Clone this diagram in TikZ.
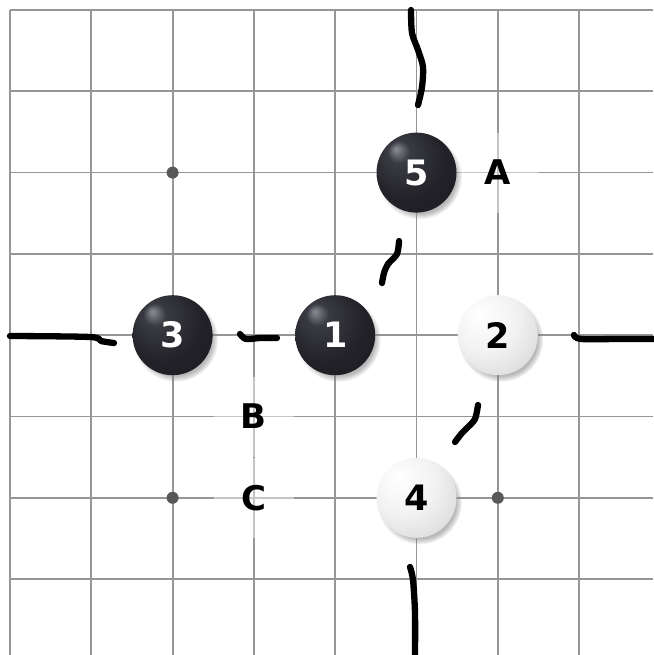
\documentclass[tikz,border=0pt]{standalone}
\usepackage{fontspec}
\setmainfont{DejaVu Sans}
\usetikzlibrary{shadows,fadings}

\definecolor{gridgray}{RGB}{150,150,150}
\definecolor{hoshigray}{RGB}{88,88,88}
\definecolor{bhi}{RGB}{140,140,150}
\definecolor{bmid}{RGB}{58,58,66}
\definecolor{bdark}{RGB}{34,34,40}
\definecolor{bedge}{RGB}{22,22,28}
\definecolor{wmid}{RGB}{242,242,242}
\definecolor{wedge}{RGB}{205,205,205}
\definecolor{wrim}{RGB}{185,185,185}

% stone surfaces: light spot towards the upper left
\pgfdeclareradialshading{blackstoneshade}{\pgfpoint{-13bp}{15bp}}{%
  color(0bp)=(bhi); color(7bp)=(bmid); color(24bp)=(bdark); color(50bp)=(bedge)}
\pgfdeclareradialshading{whitestoneshade}{\pgfpoint{-12bp}{14bp}}{%
  color(0bp)=(white); color(20bp)=(wmid); color(46bp)=(wedge); color(62bp)=(wrim)}

\tikzset{
  stone/.style={circle, minimum size=80pt, inner sep=0pt,
    font=\fontsize{35}{40}\selectfont\bfseries,
    circular drop shadow={shadow xshift=3pt, shadow yshift=-4pt,
      shadow scale=1.06, opacity=0.55}},
  blackstone/.style={stone, shading=blackstoneshade, text=white},
  whitestone/.style={stone, shading=whitestoneshade, text=black},
  letterlabel/.style={rectangle, minimum size=80pt, inner sep=0pt,
    fill=white, fill opacity=0.45, text opacity=1,
    font=\fontsize{34}{40}\selectfont\bfseries},
  gridline/.style={gridgray, line width=1.8pt},
  boundary/.style={black, line width=6.3pt, line cap=round, line join=round},
}

\begin{document}
\begin{tikzpicture}[x=1pt, y=-1pt]
  \useasboundingbox (0,0) rectangle (653,655);
  \fill[white] (0,0) rectangle (653,655);

  % board lines
  \foreach \i in {0,...,7} {
    \draw[gridline] ({10+81.3*\i},10) -- ({10+81.3*\i},655);
    \draw[gridline] (10,{10+81.3*\i}) -- (653,{10+81.3*\i});
  }

  % star points
  \foreach \p in {(172.6,172.6), (172.6,497.8), (497.8,497.8)}
    \fill[hoshigray] \p circle[radius=6pt];

  % hand-drawn boundary strokes
  \draw[boundary] plot[smooth] coordinates {(411,10) (412,33) (418,50) (423,67) (422,87) (418,105)};
  \draw[boundary] plot[smooth] coordinates {(399,241) (397,254) (388,264) (384,273) (382,283)};
  \draw[boundary] plot[smooth] coordinates {(10,336) (90,337) (101,341) (114,343)};
  \draw[boundary] plot[smooth] coordinates {(240,334) (246,339) (260,338) (277,338)};
  \draw[boundary] plot[smooth] coordinates {(574,335) (581,339) (620,339) (656,339)};
  \draw[boundary] plot[smooth] coordinates {(478,405) (475,419) (467,428) (462,433) (455,442)};
  \draw[boundary] plot[smooth] coordinates {(410,567) (413,580) (415,613) (415,657)};

  % lettered points
  \node[letterlabel] (lA) at (497.8,172.6) {A};
  \node[letterlabel] (lB) at (253.9,416.5) {B};
  \node[letterlabel] (lC) at (253.9,497.8) {C};

  % stones in move order
  \node[blackstone] (m1) at (335.2,335.2) {1};
  \node[whitestone] (m2) at (497.8,335.2) {2};
  \node[blackstone] (m3) at (172.6,335.2) {3};
  \node[whitestone] (m4) at (416.5,497.8) {4};
  \node[blackstone] (m5) at (416.5,172.6) {5};
\end{tikzpicture}
\end{document}
